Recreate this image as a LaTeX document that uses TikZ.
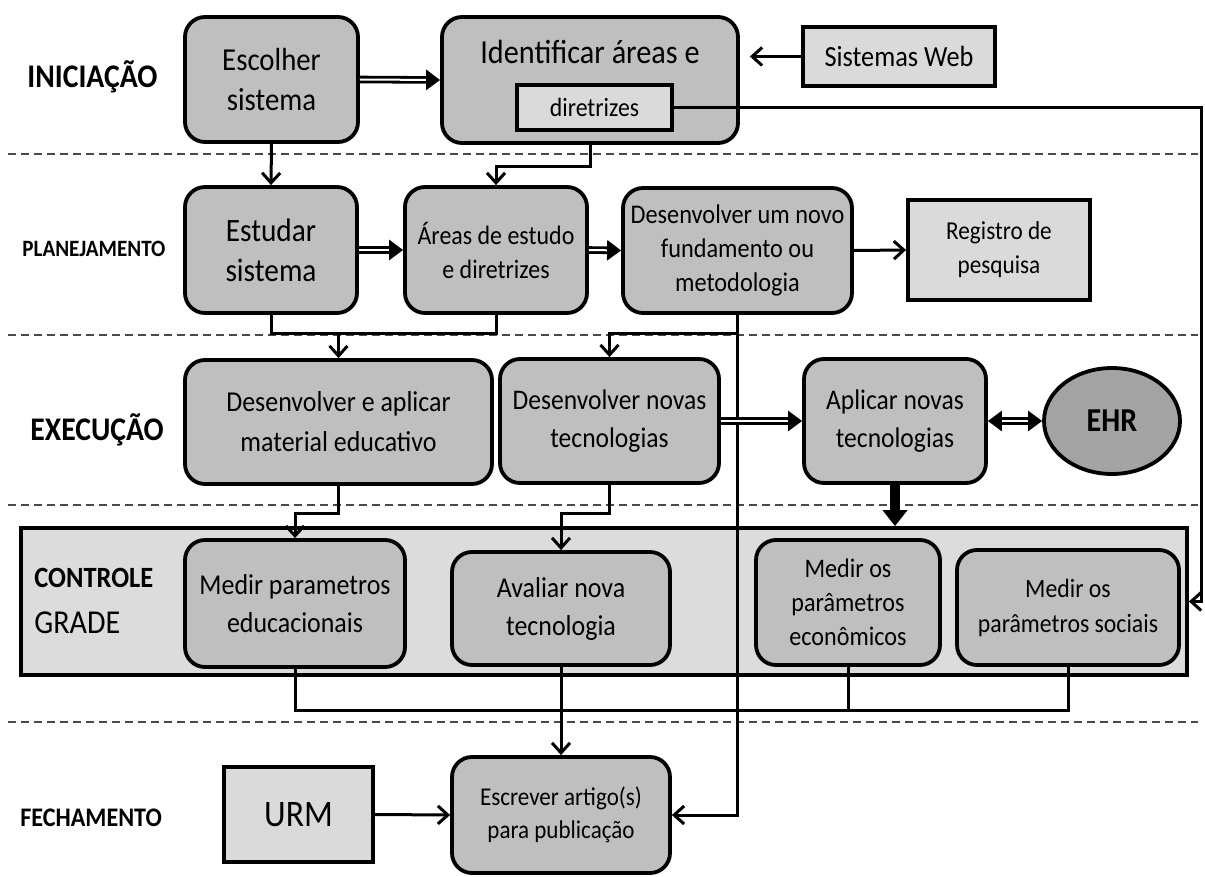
\documentclass[tikz,border=0pt]{standalone}
\usepackage{fontspec}
\setmainfont{Carlito}[FakeStretch=0.9]
\usetikzlibrary{arrows.meta,shapes.geometric}
\definecolor{boxgray}{HTML}{BFBFBF}
\definecolor{lightgray}{HTML}{DADADA}
\definecolor{gradegray}{HTML}{DCDCDC}
\definecolor{ehrgray}{HTML}{A3A3A3}
\definecolor{dashgray}{HTML}{4A4A4A}
\newcommand\fsz[2]{\fontsize{#1}{#2}\selectfont}

\begin{document}
\begin{tikzpicture}[x=0.5pt,y=-0.5pt,
  rbox/.style={draw, line width=1.9pt, rounded corners=10pt, fill=boxgray, align=center, inner sep=0pt},
  sbox/.style={draw, line width=1.9pt, fill=lightgray, align=center, inner sep=0pt},
  phase/.style={anchor=base west, inner sep=0pt, font=\bfseries\fsz{16.5pt}{20pt}},
  conn/.style={line width=1.5pt},
  arr/.style={conn, -{Straight Barb[length=5pt,width=9pt]}},
  tri/.tip={Triangle[length=7pt,width=10pt]},
  dbl/.style={double, double distance=1pt, line width=1.4pt, -tri},
  sep/.style={line width=0.8pt, dashgray, dash pattern=on 4pt off 2.5pt},
]
\useasboundingbox (0,0) rectangle (1205,877);

% phase separators
\foreach \yy in {154,335,505,722} \draw[sep] (8,\yy) -- (1198,\yy);

% phase labels
\node[phase] (lini) at (27,88) {INICIAÇÃO};
\node[phase, font=\bfseries\fsz{11.7pt}{14pt}] (lplan) at (22,257) {PLANEJAMENTO};
\node[phase] (lexe) at (30,440) {EXECUÇÃO};

% iniciação
\node[rbox, minimum width=86.5pt, minimum height=62.5pt, font=\fsz{16pt}{20pt}] (esc) at (271.5,79.5) {Escolher\\sistema};
\node[rbox, minimum width=148pt, minimum height=63pt] (ident) at (590,80) {};
\node[font=\fsz{16.8pt}{20pt}, inner sep=0pt] (identtxt) at (590,52) {Identificar áreas e};
\node[sbox, minimum width=77.5pt, minimum height=22.5pt, font=\fsz{13.2pt}{16pt}] (dir) at (594.5,107.5) {diretrizes};
\node[sbox, minimum width=96pt, minimum height=29.5pt, font=\fsz{14.6pt}{18pt}] (sw) at (899,56.5) {Sistemas Web};

% planejamento
\node[rbox, minimum width=86pt, minimum height=63pt, font=\fsz{16.3pt}{20pt}] (est) at (271,250) {Estudar\\sistema};
\node[rbox, minimum width=91pt, minimum height=63pt, font=\fsz{13.3pt}{17pt}] (areas) at (496,250) {Áreas de estudo\\e diretrizes};
\node[rbox, minimum width=114.5pt, minimum height=62.5pt, font=\fsz{13.5pt}{17pt}] (dnovo) at (737.5,250.5) {Desenvolver um novo\\fundamento ou\\metodologia};
\node[sbox, minimum width=91pt, minimum height=50pt, font=\fsz{12.9pt}{17pt}] (reg) at (999,250) {Registro de\\pesquisa};

% execução
\node[rbox, minimum width=153.5pt, minimum height=62pt, font=\fsz{14.4pt}{20pt}] (dap) at (338.5,422) {Desenvolver e aplicar\\material educativo};
\node[rbox, minimum width=109.5pt, minimum height=62pt, font=\fsz{14.2pt}{19pt}] (dnt) at (609.5,421) {Desenvolver novas\\tecnologias};
\node[rbox, minimum width=91pt, minimum height=62pt, font=\fsz{14.2pt}{19pt}] (aplic) at (895,421) {Aplicar novas\\tecnologias};
\node[ellipse, draw, line width=1.9pt, fill=ehrgray, minimum width=68pt, minimum height=53pt, inner sep=0pt, font=\bfseries\fsz{16.7pt}{20pt}] (ehr) at (1112,421) {EHR};

% controle
\node[draw, line width=1.9pt, fill=gradegray, minimum width=583pt, minimum height=73.5pt, inner sep=0pt] (grade) at (604,601.5) {};
\node[phase, font=\bfseries\fsz{14.7pt}{18pt}] (lctl) at (34,587) {CONTROLE};
\node[phase, font=\fsz{16.7pt}{20pt}] (lgrd) at (34,633) {GRADE};
\node[rbox, minimum width=110pt, minimum height=63.5pt, font=\fsz{14.4pt}{19pt}] (medp) at (295,603.5) {Medir parametros\\educacionais};
\node[rbox, minimum width=109pt, minimum height=56.5pt, font=\fsz{14.4pt}{19pt}] (aval) at (561,608.5) {Avaliar nova\\tecnologia};
\node[rbox, minimum width=92pt, minimum height=62.5pt, font=\fsz{13.4pt}{17pt}] (econ) at (848,602.5) {Medir os\\parâmetros\\econômicos};
\node[rbox, minimum width=111pt, minimum height=57.5pt, font=\fsz{13.2pt}{17.5pt}] (soc) at (1068,607.5) {Medir os\\parâmetros sociais};

% fechamento
\node[phase, font=\bfseries\fsz{13.4pt}{16pt}] (lfec) at (20,826) {FECHAMENTO};
\node[sbox, minimum width=74.5pt, minimum height=47.5pt, font=\fsz{18.7pt}{22pt}] (urm) at (298.5,814.5) {URM};
\node[rbox, minimum width=109pt, minimum height=58pt, font=\fsz{12.8pt}{16.5pt}] (escr) at (561,815) {Escrever artigo(s)\\para publicação};

% connectors
\coordinate (rt) at (1201,0);
\coordinate (j1) at (0,334);
\coordinate (j2) at (0,513);
\coordinate (bus) at (0,710);

\draw[dbl] (esc.east) -- (ident.west);
\draw[arr, shorten >=5pt] (sw.west) -- (sw.west -| ident.east);
\draw[arr] (esc.south) -- (est.north);
\draw[arr] (ident.south) -- ++(0,22) -| (areas.north);
\draw[arr] (dir.east) -- (dir.east -| rt) |- (grade.east);

\draw[dbl] (est.east) -- (areas.west);
\draw[dbl] (areas.east) -- (dnovo.west);
\draw[arr] (dnovo.east) -- (reg.west);
\draw[conn] (est.south) |- (areas.south |- j1) -- (areas.south);
\draw[arr] (dap.north |- j1) -- (dap.north);
\draw[arr] (dnovo.south) |- (escr.east);
\draw[arr] (dnovo.south |- j1) -| (dnt.north);

\draw[dbl] (dnt.east) -- (aplic.west);
\draw[dbl, tri-tri] (aplic.east) -- (ehr.west);
\draw[arr] (dap.south) |- (medp.north |- j2) -- (medp.north);
\draw[arr] (dnt.south) |- (aval.north |- j2) -- (aval.north);
\draw[line width=5pt, -{Triangle[length=8pt,width=12pt]}] (aplic.south) -- (aplic.south |- grade.north);

\draw[conn] (medp.south) |- (soc.south |- bus) -- (soc.south);
\draw[conn] (econ.south) -- (econ.south |- bus);
\draw[arr] (aval.south) -- (escr.north);
\draw[arr] (urm.east) -- (escr.west);
\end{tikzpicture}
\end{document}
